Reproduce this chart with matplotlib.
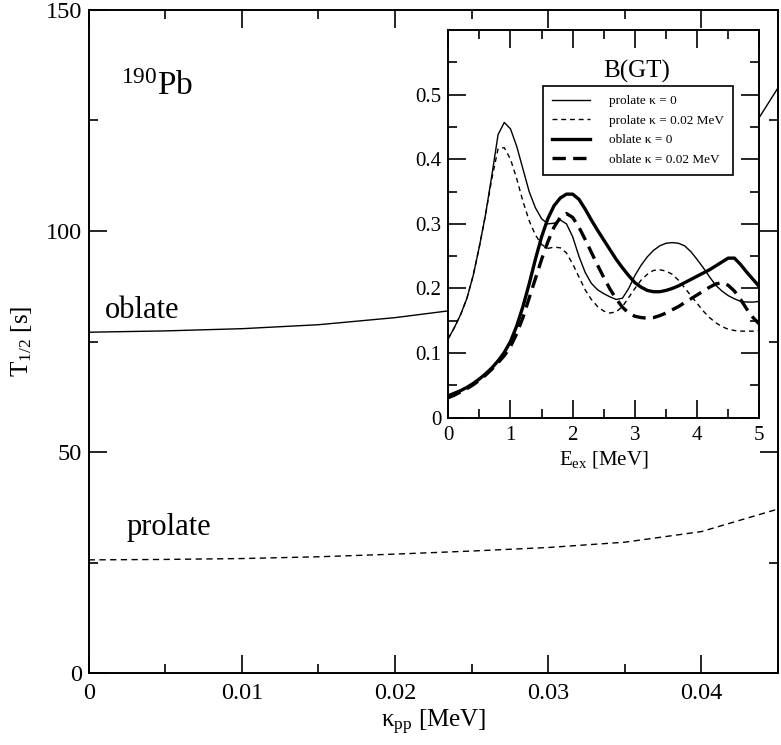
import matplotlib
matplotlib.use("Agg")
import matplotlib.pyplot as plt
from matplotlib.ticker import MultipleLocator, FixedLocator, FixedFormatter

plt.rcParams['font.family'] = ['Liberation Serif', 'DejaVu Serif']
plt.rcParams['mathtext.default'] = 'regular'

# main panel: half-life vs kappa_pp
kappa = [0, 0.005, 0.01, 0.015, 0.02, 0.025, 0.03, 0.035, 0.04, 0.045]
t_oblate = [77.1, 77.4, 77.9, 78.8, 80.4, 82.6, 86.0, 91.0, 105.0, 132.4]
t_prolate = [25.6, 25.7, 25.9, 26.3, 26.9, 27.6, 28.4, 29.6, 32.0, 37.1]

# inset: B(GT) strength vs excitation energy
e_ex = [0.0, 0.1, 0.2, 0.3, 0.4, 0.5, 0.6, 0.7, 0.8, 0.9,
        1.0, 1.1, 1.2, 1.3, 1.4, 1.5, 1.6, 1.7, 1.8, 1.9,
        2.0, 2.1, 2.2, 2.3, 2.4, 2.5, 2.6, 2.7, 2.8, 2.9,
        3.0, 3.1, 3.2, 3.3, 3.4, 3.5, 3.6, 3.7, 3.8, 3.9,
        4.0, 4.1, 4.2, 4.3, 4.4, 4.5, 4.6, 4.7, 4.8, 4.9, 5.0]

bgt_prolate_0 = [0.1225, 0.140, 0.160, 0.185, 0.220, 0.265, 0.315, 0.375, 0.438, 0.457,
                 0.447, 0.420, 0.385, 0.350, 0.325, 0.308, 0.300, 0.301, 0.306, 0.300,
                 0.280, 0.250, 0.225, 0.208, 0.198, 0.192, 0.187, 0.183, 0.185, 0.200,
                 0.220, 0.236, 0.249, 0.259, 0.266, 0.270, 0.271, 0.270, 0.266, 0.257,
                 0.245, 0.232, 0.218, 0.205, 0.196, 0.189, 0.184, 0.180, 0.179, 0.179, 0.180]

bgt_prolate_2 = [0.1225, 0.140, 0.160, 0.185, 0.220, 0.265, 0.315, 0.370, 0.416, 0.418,
                 0.400, 0.370, 0.335, 0.305, 0.283, 0.268, 0.262, 0.264, 0.263, 0.255,
                 0.238, 0.218, 0.198, 0.183, 0.172, 0.165, 0.162, 0.164, 0.172, 0.186,
                 0.200, 0.213, 0.222, 0.228, 0.229, 0.227, 0.222, 0.213, 0.201, 0.189,
                 0.177, 0.165, 0.155, 0.147, 0.141, 0.137, 0.135, 0.134, 0.134, 0.134, 0.135]

bgt_oblate_0 = [0.034, 0.038, 0.042, 0.047, 0.053, 0.060, 0.068, 0.077, 0.088, 0.101,
                0.118, 0.142, 0.172, 0.207, 0.245, 0.280, 0.308, 0.328, 0.340, 0.346,
                0.346, 0.338, 0.323, 0.306, 0.290, 0.275, 0.260, 0.245, 0.232, 0.220,
                0.209, 0.202, 0.197, 0.195, 0.195, 0.197, 0.200, 0.204, 0.209, 0.214,
                0.219, 0.224, 0.229, 0.235, 0.241, 0.247, 0.247, 0.237, 0.225, 0.214, 0.203]

bgt_oblate_2 = [0.031, 0.035, 0.040, 0.045, 0.051, 0.058, 0.066, 0.075, 0.085, 0.096,
                0.110, 0.130, 0.155, 0.185, 0.215, 0.245, 0.272, 0.295, 0.310, 0.316,
                0.310, 0.295, 0.276, 0.256, 0.236, 0.217, 0.199, 0.184, 0.171, 0.162,
                0.157, 0.155, 0.154, 0.155, 0.158, 0.162, 0.167, 0.172, 0.178, 0.184,
                0.190, 0.196, 0.202, 0.207, 0.209, 0.205, 0.196, 0.183, 0.168, 0.155, 0.145]

fig = plt.figure(figsize=(7.81, 7.45), dpi=100)
ax = fig.add_axes([0.1136, 0.0966, 0.9962 - 0.1136, 0.9866 - 0.0966])

ax.plot(kappa, t_oblate, color='black', lw=1.0)
ax.plot(kappa, t_prolate, color='black', lw=1.0, dashes=(4.5, 3.2))

ax.set_xlim(0, 0.045)
ax.set_ylim(0, 150)
ax.xaxis.set_major_locator(MultipleLocator(0.01))
ax.xaxis.set_minor_locator(MultipleLocator(0.005))
ax.yaxis.set_major_locator(MultipleLocator(50))
ax.yaxis.set_minor_locator(MultipleLocator(25))
ax.set_xticks([0, 0.01, 0.02, 0.03, 0.04])
ax.set_xticklabels(['0', '0.01', '0.02', '0.03', '0.04'])
ax.tick_params(which='both', direction='in', top=True, right=True, labelsize=17.5, width=1.2)
ax.tick_params(which='major', length=13)
ax.tick_params(which='minor', length=6.5)
ax.tick_params(axis='x', pad=7)
ax.tick_params(axis='y', pad=5)
for sp in ax.spines.values():
    sp.set_linewidth(1.4)

ax.set_xlabel(r'κ$_{pp}$ [MeV]', fontsize=18, labelpad=3)
ax.set_ylabel(r'T$_{1/2}$ [s]', fontsize=18, labelpad=8)

ax.text(0.00106, 80.3, 'oblate', fontsize=22, va='baseline', ha='left')
ax.text(0.00248, 31.2, 'prolate', fontsize=22, va='baseline', ha='left')
ax.text(0.00209, 130.8, r'$^{190}$Pb', fontsize=24, va='baseline', ha='left')

# inset
ins = fig.add_axes([0.574, 0.4393, 0.9722 - 0.574, 0.9597 - 0.4393])
ins.set_facecolor('white')
ins.plot(e_ex, bgt_prolate_0, color='black', lw=1.0, label='prolate κ = 0')
ins.plot(e_ex, bgt_prolate_2, color='black', lw=1.0, dashes=(3.5, 2.8), label='prolate κ = 0.02 MeV')
ins.plot(e_ex, bgt_oblate_0, color='black', lw=2.4, label='oblate κ = 0')
ins.plot(e_ex, bgt_oblate_2, color='black', lw=2.4, dashes=(4, 2.2), label='oblate κ = 0.02 MeV')

ins.set_xlim(0, 5)
ins.set_ylim(0, 0.6)
ins.xaxis.set_major_locator(MultipleLocator(1))
ins.xaxis.set_minor_locator(MultipleLocator(0.5))
ins.yaxis.set_major_locator(FixedLocator([0, 0.1, 0.2, 0.3, 0.4, 0.5]))
ins.yaxis.set_major_formatter(FixedFormatter(['0', '0.1', '0.2', '0.3', '0.4', '0.5']))
ins.yaxis.set_minor_locator(FixedLocator([0.05, 0.15, 0.25, 0.35, 0.45, 0.55]))
ins.tick_params(which='both', direction='in', top=True, right=True, labelsize=15, width=1.2)
ins.tick_params(which='major', length=13)
ins.tick_params(which='minor', length=6.5)
ins.tick_params(axis='x', pad=6)
ins.tick_params(axis='y', pad=5)
for sp in ins.spines.values():
    sp.set_linewidth(1.4)
ins.set_xlabel(r'E$_{ex}$ [MeV]', fontsize=15, labelpad=3)
ins.text(3.03, 0.527, 'B(GT)', fontsize=18, ha='center', va='baseline')

leg = ins.legend(loc='upper left', bbox_to_anchor=(0.3035, 0.8556), borderaxespad=0,
                 fontsize=9.5, handlelength=2.9, handletextpad=1.4, labelspacing=0.55,
                 borderpad=0.7, fancybox=False, framealpha=1, edgecolor='black')
leg.get_frame().set_linewidth(1.2)

fig.savefig('out.png', dpi=100)
